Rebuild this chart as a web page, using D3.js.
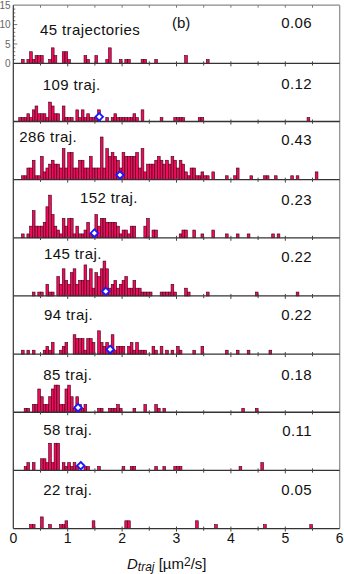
<!DOCTYPE html>
<html>
<head>
<meta charset="utf-8">
<script src="https://cdn.jsdelivr.net/npm/d3@7"></script>
<style>
  body { margin: 0; background: #fff; }
  svg { display: block; font-family: "Liberation Sans", Arial, sans-serif; }
</style>
</head>
<body>
<svg id="chart"></svg>
<script>
// histogram bins are 0.05 wide, each entry is [bin index, count]
const binWidth = 0.05;
const hist1 = [[3,1],[5,1],[6,3],[7,1],[8,2],[9,2],[10,2],[13,1],[14,4],[15,2],[18,3],[19,3],[20,1],[26,2],[27,1],[30,2],[34,1],[35,4],[39,1],[41,1],[42,1],[47,1],[48,1],[52,1],[63,2],[71,1]];
const hist2 = [[2,1],[3,1],[4,1],[5,2],[6,1],[7,3],[8,4],[9,2],[10,2],[11,2],[12,1],[13,5],[14,4],[15,2],[16,2],[18,4],[19,1],[20,1],[21,1],[23,3],[24,1],[25,3],[26,1],[27,2],[28,1],[29,1],[30,1],[31,3],[34,1],[36,1],[37,2],[38,1],[39,1],[40,1],[41,1],[42,1],[43,1],[44,2],[45,1],[47,3],[54,1],[59,1],[60,1],[61,1],[62,1],[68,1],[69,1],[108,1]];
const hist3 = [[3,1],[4,1],[5,3],[6,3],[7,5],[8,1],[9,1],[10,6],[11,2],[12,3],[13,4],[14,5],[15,4],[16,4],[17,3],[18,8],[19,3],[20,7],[21,7],[22,3],[23,3],[24,5],[25,5],[26,3],[27,3],[28,6],[29,3],[30,3],[31,3],[32,11],[33,3],[34,8],[35,6],[36,7],[37,6],[38,5],[39,3],[40,7],[41,6],[42,6],[43,6],[44,6],[45,7],[46,3],[47,8],[48,2],[49,4],[50,4],[51,4],[52,5],[53,6],[54,5],[55,4],[56,5],[57,4],[58,6],[59,5],[60,3],[61,5],[62,4],[63,2],[64,1],[65,3],[66,3],[67,1],[68,1],[69,2],[70,1],[71,1],[73,2],[78,1],[81,1],[82,3],[87,1],[92,1],[93,1],[96,1],[102,1],[104,1],[111,2]];
const hist4 = [[3,1],[5,1],[6,3],[7,7],[8,3],[9,3],[10,3],[11,4],[12,8],[13,11],[14,6],[15,3],[16,2],[17,1],[18,5],[19,3],[20,5],[21,5],[22,1],[23,3],[24,1],[25,1],[26,2],[27,4],[28,1],[29,1],[30,6],[31,3],[32,5],[33,5],[34,4],[35,4],[36,4],[37,4],[38,3],[39,1],[40,2],[41,2],[42,1],[43,3],[44,3],[48,3],[49,5],[51,2],[52,2],[61,1],[62,2],[63,2],[66,2],[69,1],[73,2],[78,1],[82,1],[86,1],[95,1],[97,1]];
const hist5 = [[7,1],[9,1],[10,1],[12,3],[13,1],[14,1],[16,5],[17,3],[18,7],[19,4],[20,3],[21,6],[22,7],[23,3],[24,4],[25,4],[26,8],[27,4],[28,7],[29,2],[30,6],[31,5],[32,7],[33,9],[34,7],[35,2],[36,3],[37,4],[38,2],[39,3],[40,4],[41,5],[42,2],[43,2],[44,4],[45,2],[46,2],[47,1],[48,1],[49,1],[50,1],[54,1],[55,1],[56,1],[57,1],[58,3],[59,1],[63,2],[64,1],[71,1],[89,1],[104,1]];
const hist6 = [[3,1],[5,1],[7,1],[11,1],[12,2],[13,1],[14,3],[17,1],[18,2],[19,3],[22,5],[23,4],[24,4],[25,4],[26,1],[27,4],[28,4],[29,3],[31,6],[32,3],[33,2],[34,3],[35,1],[36,5],[37,1],[38,2],[39,2],[40,2],[42,2],[43,3],[44,1],[45,3],[46,1],[47,1],[48,1],[51,2],[52,1],[54,2],[56,1],[58,1],[60,2],[61,1],[66,1],[69,2],[78,1],[82,1],[86,1],[94,1]];
const hist7 = [[4,1],[5,1],[7,2],[8,2],[9,6],[10,4],[11,2],[12,2],[13,4],[14,6],[15,7],[16,7],[17,2],[18,2],[19,6],[20,7],[21,4],[22,1],[23,4],[24,2],[25,1],[26,2],[31,1],[32,1],[35,1],[36,1],[37,1],[38,2],[39,1],[44,1],[48,2],[52,2],[53,1],[55,1],[84,1],[89,1]];
const hist8 = [[4,1],[5,2],[7,2],[10,3],[11,3],[12,2],[13,7],[14,2],[15,7],[16,7],[18,2],[19,1],[20,2],[21,1],[22,2],[23,1],[26,1],[27,1],[31,1],[40,1],[43,1],[44,1],[52,1],[55,1],[59,1],[60,1],[61,1],[83,1],[91,2]];
const hist9 = [[6,1],[7,1],[10,3],[13,1],[17,1],[18,1],[19,2],[29,2],[41,2],[42,2],[67,2],[74,1],[92,1],[109,1]];

const histograms = [hist1, hist2, hist3, hist4, hist5, hist6, hist7, hist8, hist9];
const trajLabels = ["45 trajectories", "109 traj.", "286 traj.", "152 traj.", "145 traj.", "94 traj.", "85 traj.", "58 traj.", "22 traj."];
const fractions = ["0.06", "0.12", "0.43", "0.23", "0.22", "0.22", "0.18", "0.11", "0.05"];
const meanD = [null, 1.58, 1.96, 1.49, 1.70, 1.78, 1.19, 1.24, null];
const yTicks = [0, 5, 10, 15];
const xTicks = [0, 1, 2, 3, 4, 5, 6];

// where the panel labels sit (x, offset above the panel baseline)
const labelX = [40, 42.7, 19.3, 80, 44, 44, 43.3, 43.3, 43.3];
const labelDy = [-28.3, -32, -37.6, -35, -37, -34.3, -32.3, -35.3, -33.5];
const fracDy = [-35, -33, -34.3, -33.3, -33.6, -34.3, -32.3, -34.3, -33.5];

const width = 344;
const height = 574;
const plotLeft = 13.3, plotRight = 339.7, plotTop = 5.2, panelH = 58.15;

const svg = d3.select("#chart").attr("width", width).attr("height", height);

const x = d3.scaleLinear().domain([0, 6]).range([plotLeft, plotRight]);
const plotBottom = plotTop + panelH * 9;

// frame: gray top and right, dark left
svg.append("line").attr("x1", plotLeft).attr("x2", plotRight).attr("y1", plotTop).attr("y2", plotTop)
  .attr("stroke", "#8a8a8a").attr("stroke-width", 1.2);
svg.append("line").attr("x1", plotRight).attr("x2", plotRight).attr("y1", plotTop).attr("y2", plotBottom)
  .attr("stroke", "#8a8a8a").attr("stroke-width", 1.2);

const halfTicks = d3.range(0.5, 6, 0.5);
svg.selectAll(".topTick").data(halfTicks).join("line")
  .attr("x1", d => x(d)).attr("x2", d => x(d))
  .attr("y1", plotTop).attr("y2", plotTop + 2.5)
  .attr("stroke", "#777").attr("stroke-width", 1);

histograms.forEach((hist, i) => {
  const base = plotTop + panelH * (i + 1);
  const y = d3.scaleLinear().domain([0, 15]).range([base, base - panelH]);
  const g = svg.append("g");

  g.selectAll("rect").data(hist).join("rect")
    .attr("x", d => x(d[0] * binWidth))
    .attr("width", x(binWidth) - x(0))
    .attr("y", d => y(d[1]))
    .attr("height", d => y(0) - y(d[1]))
    .attr("fill", "#ee0c5c")
    .attr("stroke", "#3a0014")
    .attr("stroke-width", 0.6);

  g.append("line").attr("x1", plotLeft).attr("x2", plotRight).attr("y1", base).attr("y2", base)
    .attr("stroke", "#333").attr("stroke-width", 1.3);

  g.selectAll(".tick").data(halfTicks).join("line")
    .attr("x1", d => x(d)).attr("x2", d => x(d))
    .attr("y1", base - 2).attr("y2", d => base + (d % 1 === 0 ? 3 : 2.2))
    .attr("stroke", "#444").attr("stroke-width", 1);

  if (meanD[i] !== null) {
    g.append("path")
      .attr("d", d3.symbol(d3.symbolDiamond2, 36)())
      .attr("transform", `translate(${x(meanD[i])},${y(1.2)})`)
      .attr("fill", "#fff")
      .attr("stroke", "#1a1aff")
      .attr("stroke-width", 1.8);
  }

  g.append("text").attr("x", labelX[i]).attr("y", base + labelDy[i])
    .attr("font-size", 15).attr("letter-spacing", 0.4).attr("fill", "#111")
    .text(trajLabels[i]);

  g.append("text").attr("x", 312).attr("y", base + fracDy[i])
    .attr("text-anchor", "end")
    .attr("font-size", 15).attr("letter-spacing", 0.4).attr("fill", "#111")
    .text(fractions[i]);

  if (i === 0) {
    g.append("text").attr("x", 172).attr("y", base + fracDy[i])
      .attr("font-size", 15).attr("fill", "#111").text("(b)");

    // y axis of the first panel
    g.selectAll(".ym").data(d3.range(1, 15)).join("line")
      .attr("x1", plotLeft).attr("x2", d => plotLeft + (d % 5 === 0 ? 4 : 2))
      .attr("y1", d => y(d)).attr("y2", d => y(d))
      .attr("stroke", "#555").attr("stroke-width", 0.8);
    g.selectAll(".yl").data(yTicks).join("text")
      .attr("x", 10.5).attr("y", d => y(d)).attr("dy", "0.36em")
      .attr("text-anchor", "end").attr("font-size", 10).attr("fill", "#666")
      .text(d => d);
  }
});

// left axis line
svg.append("line").attr("x1", plotLeft).attr("x2", plotLeft).attr("y1", plotTop).attr("y2", plotBottom)
  .attr("stroke", "#333").attr("stroke-width", 1.2);

// x tick labels
svg.selectAll(".xl").data(xTicks).join("text")
  .attr("x", d => x(d)).attr("y", 542.5)
  .attr("text-anchor", "middle").attr("font-size", 14).attr("fill", "#111")
  .text(d => d);

// axis title
const title = svg.append("text").attr("x", 127).attr("y", 569.3)
  .attr("font-size", 15).attr("fill", "#111");
title.append("tspan").attr("font-style", "italic").text("D");
title.append("tspan").attr("font-style", "italic").attr("font-size", 12).attr("dy", 1.5).text("traj");
title.append("tspan").attr("dy", -1.5).text(" [µm");
title.append("tspan").attr("font-size", 12).attr("dy", -3).text("2");
title.append("tspan").attr("dy", 3).text("/s]");
</script>
</body>
</html>
